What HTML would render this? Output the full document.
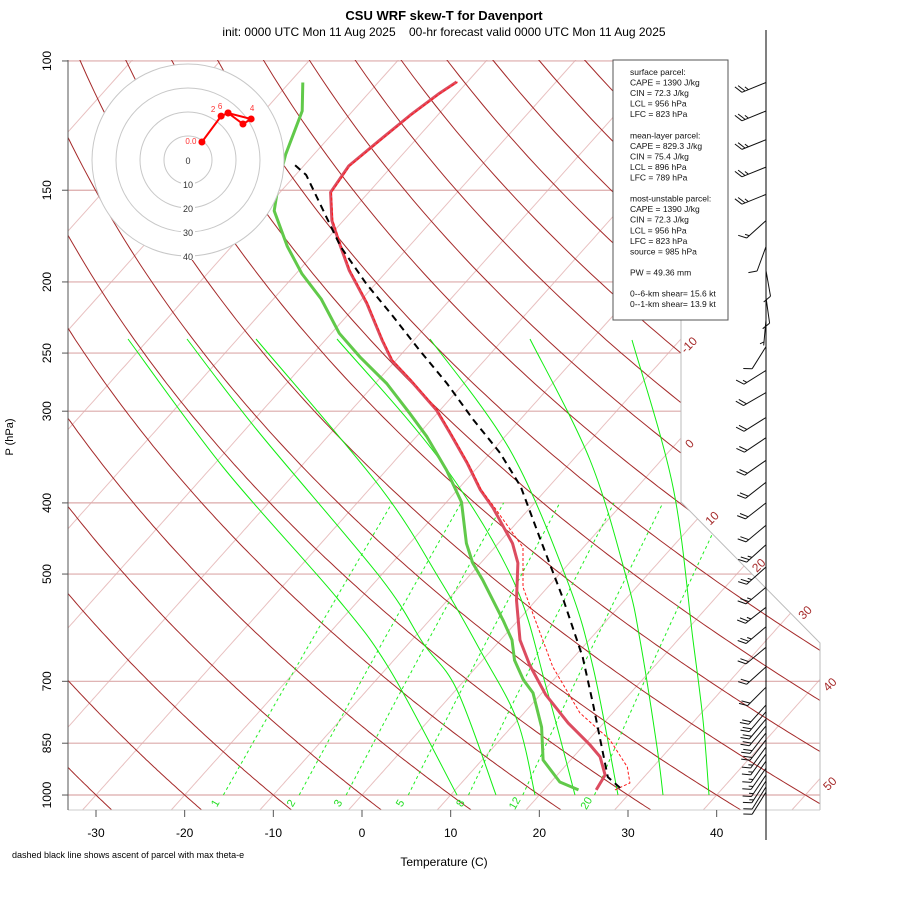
<!DOCTYPE html>
<html><head><meta charset="utf-8"><title>CSU WRF skew-T for Davenport</title>
<style>
html,body{margin:0;padding:0;background:#fff;}
svg{display:block;font-family:"Liberation Sans",Arial,sans-serif;}
</style></head>
<body>
<svg id="chart" width="900" height="900" viewBox="0 0 900 900" xmlns="http://www.w3.org/2000/svg">
<defs>
<clipPath id="plotclip"><polygon points="68,60 681,60 681,502 820,643 820,810 68,810"/></clipPath>
</defs>
<rect x="0" y="0" width="900" height="900" fill="#fff"/>
<text x="444" y="20" text-anchor="middle" font-size="13" font-weight="bold">CSU WRF skew-T for Davenport</text>
<text x="444" y="36" text-anchor="middle" font-size="12" xml:space="preserve">init: 0000 UTC Mon 11 Aug 2025    00-hr forecast valid 0000 UTC Mon 11 Aug 2025</text>
<g id="bg" clip-path="url(#plotclip)"></g>
<g id="bounds">
<polyline points="681,60 681,502 820,643 820,810" fill="none" stroke="#bbb" stroke-width="1"/>
<line x1="68" y1="810" x2="820" y2="810" stroke="#ccc" stroke-width="1"/>
</g>
<g id="axes"></g>
<g id="profiles" clip-path="url(#plotclip)"></g>
<g id="hodo"></g>
<g id="info">
<rect x="613" y="60" width="115" height="260" fill="#fff" stroke="#555" stroke-width="1"/>
</g>
<g id="barbs">
<line x1="766" y1="30" x2="766" y2="840" stroke="#000" stroke-width="1"/>
</g>
<text x="444" y="866" text-anchor="middle" font-size="12">Temperature (C)</text>
<text x="13" y="437" text-anchor="middle" font-size="11" transform="rotate(-90 13 437)">P (hPa)</text>
<text x="12" y="858" font-size="9">dashed black line shows ascent of parcel with max theta-e</text>
</svg>
<script>
// ---- data arrays ----
const tempP = [984,939,887,855,798,730,665,615,543,483,454,406,384,353,321,299,272,256,240,214,193,179,165,151,139,128,118.5,110.6,106.8];
const tempT = [25.9,25.4,23.0,20.7,16.0,10.6,5.8,2.2,-2.2,-5.8,-8.4,-14.2,-17.4,-21.6,-26.6,-30.4,-36.4,-40.4,-43.6,-49.0,-54.3,-57.7,-61.3,-64.3,-64.9,-64.0,-63.1,-62.0,-61.2];
const dewP = [984,960,896,808,726,697,655,615,578,510,483,454,399,361,325,302,275,253,235,211,195,179,160,145,134,117,107];
const dewT = [23.9,21.0,16.9,13.4,9.0,6.6,3.6,1.3,-1.7,-8.0,-10.9,-13.6,-18.3,-23.2,-28.8,-33.1,-38.7,-44.4,-49.1,-54.6,-59.3,-63.7,-68.8,-71.4,-73.2,-75.7,-78.5];
const parcelP = [978,945,869,750,649,538,449,380,342,308,275,248,223,201,179,143,138];
const parcelT = [28.4,25.9,22.6,16.8,11.0,2.7,-5.6,-13.2,-18.9,-25.3,-31.9,-38.3,-44.7,-51.1,-57.7,-68.8,-71.4];
const tvP = [984,963,916,841,773,669,521,460,406,384,353,321,299,272,256,240,214,193,179,165,151,139,128,118.5,110.6,106.8];
const tvT = [28.0,29.0,27.1,22.4,16.3,8.6,-2.8,-6.8,-14.0,-17.3,-21.5,-26.5,-30.3,-36.3,-40.3,-43.5,-48.9,-54.2,-57.6,-61.2,-64.2,-64.8,-63.9,-63.0,-61.9,-61.1];
const windP = [107,117,128,139.5,152,165,179,193,210,225,245,264,283,306,326,350,375,400,429,456,489,521,555,590,629,669,713,754,770,788,805,823,841,860,879,899,919,939,957,975,991];
const windDir = [248,248,248,248,248,228,200,170,172,185,212,238,240,238,236,235,232,232,230,228,228,230,232,230,230,228,225,222,220,220,220,218,218,216,216,215,215,214,213,212,212];
const windSpd = [25,25,25,25,25,15,10,10,10,5,10,15,20,20,20,20,20,20,20,25,25,25,25,25,20,20,20,20,20,20,20,20,20,18,18,15,15,15,15,12,10];
const hodoU = [5.8,13.8,16.7,26.3,22.9,16.7];
const hodoV = [7.5,18.3,19.6,17.1,15.0,19.6];
const hodoLbl = ["0.0","2","6","4","",""];
const pLevels = [100,150,200,250,300,400,500,700,850,1000];
const pLabels = ["100","150","200","250","300","400","500","700","850","1000"];
const tTicks = [-30,-20,-10,0,10,20,30,40];
const isoT = [-100,-90,-80,-70,-60,-50,-40,-30,-20,-10,0,10,20,30,40,50];
const isoLabelT = [-10,0,10,20,30,40,50];
const thetas = [-30,-20,-10,0,10,20,30,40,50,60,70,80,90,100,110,120,130,140,150,160,170,180,190,200];
const mixW = [1,2,3,5,8,12,20];
const infoLines = ["surface parcel:","CAPE = 1390 J/kg","CIN = 72.3 J/kg","LCL = 956 hPa","LFC = 823 hPa","","mean-layer parcel:","CAPE = 829.3 J/kg","CIN = 75.4 J/kg","LCL = 896 hPa","LFC = 789 hPa","","most-unstable parcel:","CAPE = 1390 J/kg","CIN = 72.3 J/kg","LCL = 956 hPa","LFC = 823 hPa","source = 985 hPa","","PW =  49.36 mm","","0--6-km shear= 15.6 kt","0--1-km shear= 13.9 kt"];

// ---- axis functions ----
const NS='http://www.w3.org/2000/svg';
function yu(p){return 132.182-44.061*Math.log10(p);}
function X(t,p){return 362+16.42*(0.54*t+0.90692*yu(p));}
function Y(p){return 795-16.66*yu(p);}
function mk(tag,attrs,parent){const e=document.createElementNS(NS,tag);for(const k in attrs)e.setAttribute(k,attrs[k]);parent.appendChild(e);return e;}
function pathFrom(pts){return pts.map((q,i)=>(i?'L':'M')+q[0].toFixed(1)+' '+q[1].toFixed(1)).join(' ');}
function smooth(pts){let d='M'+pts[0][0]+' '+pts[0][1];for(let i=0;i<pts.length-1;i++){const p0=pts[i-1]||pts[i],p1=pts[i],p2=pts[i+1],p3=pts[i+2]||p2;
 const c1=[p1[0]+(p2[0]-p0[0])/6,p1[1]+(p2[1]-p0[1])/6],c2=[p2[0]-(p3[0]-p1[0])/6,p2[1]-(p3[1]-p1[1])/6];
 d+=' C'+c1[0].toFixed(1)+' '+c1[1].toFixed(1)+' '+c2[0].toFixed(1)+' '+c2[1].toFixed(1)+' '+p2[0]+' '+p2[1];}return d;}
function inside(x,y){if(x<68||x>820||y<60||y>810)return false;if(y<502)return x<=681;if(y<643)return x<=681+(y-502)/1.0144;return true;}

const bg=document.getElementById('bg');
// isotherms
isoT.forEach(t=>{const pts=[];for(let p=1060;p>=95;p-=5)pts.push([X(t,p),Y(p)]);
 const e=mk('path',{d:pathFrom(pts),fill:'none',stroke:'#e8c0c0','stroke-width':1},bg);
 
 });
// pressure lines
pLevels.forEach(p=>{const e=mk('line',{x1:68,x2:820,y1:Y(p),y2:Y(p),stroke:'#dcaaaa','stroke-width':1.2},bg);
 
 });
// dry adiabats
thetas.forEach(th=>{const pts=[];for(let p=1060;p>=95;p-=5){const T=(th+273.15)*Math.pow(p/1000,0.2857)-273.15;pts.push([X(T,p),Y(p)]);}
 const e=mk('path',{d:pathFrom(pts),fill:'none',stroke:'#a52a2a','stroke-width':1},bg);
 
 });
// mixing ratio lines
function tdW(w,p){const e=w*p/(622+w);const l=Math.log(e/6.112);return 243.5*l/(17.67-l)+1.5;}
mixW.forEach(w=>{const pts=[];for(let p=1000;p>=400;p-=10)pts.push([X(tdW(w,p),p),Y(p)]);
 const e=mk('path',{d:pathFrom(pts),fill:'none',stroke:'#22ee22','stroke-width':1,'stroke-dasharray':'3,3'},bg);
 
 
 const lx=X(tdW(w,1000),1000)-5, ly=805;
 const tx=mk('text',{x:lx,y:ly,'font-size':11,fill:'#22dd22','text-anchor':'middle',transform:'rotate(-60 '+lx+' '+ly+')'},document.getElementById('axes'));
 tx.textContent=w;
 
 });
// saturated adiabats (traced reference curves)
const moistCurves=[
 [[128,339],[223,467],[337,598],[390,670],[457,795]],
 [[187,339],[257,430],[380,577],[423,643],[457,690],[496,795]],
 [[256,339],[380,487],[440,580],[480,650],[517,720],[535,795]],
 [[337,339],[440,460],[513,580],[547,690],[575,795]],
 [[430,339],[510,450],[567,580],[593,667],[618,795]],
 [[530,339],[590,460],[627,580],[640,640],[657,747],[663,795]],
 [[632,340],[673,487],[693,640],[703,720],[709,795]]];
moistCurves.forEach((c,i)=>{const e=mk('path',{d:smooth(c),fill:'none',stroke:'#11ee11','stroke-width':1},bg);
 
 });

// axes
const ax=document.getElementById('axes');
mk('line',{x1:68,y1:60,x2:68,y2:810,stroke:'#555','stroke-width':1},ax);
pLevels.forEach((p,i)=>{const y=Y(p);mk('line',{x1:62,x2:68,y1:y,y2:y,stroke:'#555'},ax);
 const t=mk('text',{x:51,y:y,'font-size':12,'text-anchor':'middle',transform:'rotate(-90 51 '+y+')'},ax);
 t.textContent=pLabels[i];
 
 });
tTicks.forEach(tv=>{const x=362+16.42*0.54*tv;mk('line',{x1:x,x2:x,y1:810,y2:817,stroke:'#555'},ax);
 const t=mk('text',{x:x,y:837,'font-size':12,'text-anchor':'middle'},ax);
 t.textContent=tv;
 
 });
isoLabelT.forEach(tv=>{let lx=0,ly=0;for(let p=1060;p>=95;p-=1){const x=X(tv,p),y=Y(p);if(inside(x,y)){lx=x;ly=y;}}
 const cx=lx+(lx>815?10:(ly>502?15:9)),cy=ly+(ly>502&&lx<815?-1:5);
 const t=mk('text',{x:cx,y:cy+4,'font-size':12,fill:'#a52a2a','text-anchor':'middle',transform:'rotate(-45 '+cx+' '+cy+')'},ax);
 t.textContent=tv;
 
 });

// profiles
const pr=document.getElementById('profiles');
function prof(P,T,attrs,name){const pts=P.map((p,i)=>[X(T[i],p),Y(p)]);attrs.d=pathFrom(pts);attrs.fill='none';attrs['stroke-linejoin']='round';
 const e=mk('path',attrs,pr);
 
 }
prof(dewP,dewT,{stroke:'#61c94a','stroke-width':3},'dewpoint-line');
prof(tempP,tempT,{stroke:'#dc4c60','stroke-width':3},'temperature-line');
prof(tvP,tvT,{stroke:'#ff1a1a','stroke-width':1,'stroke-dasharray':'3,2'},'virtual-temperature-line');
prof(parcelP,parcelT,{stroke:'#000','stroke-width':2,'stroke-dasharray':'7,5'},'parcel-ascent-line');

// hodograph
const hg=document.getElementById('hodo');const hcx=188,hcy=160,hs=2.4;
[40,30,20,10].forEach(r=>{mk('circle',{cx:hcx,cy:hcy,r:r*hs,fill:'#fff',stroke:'#c8c8c8','stroke-width':1},hg);});
[0,10,20,30,40].forEach(r=>{const t=mk('text',{x:hcx,y:hcy+r*hs+4,'font-size':9,'text-anchor':'middle',fill:'#333'},hg);
 if(r>0){mk('rect',{x:hcx-7,y:hcy+r*hs-4,width:14,height:8,fill:'#fff'},hg);hg.appendChild(t);}
 t.textContent=r;
 
 });
const hpts=hodoU.map((u,i)=>[hcx+u*hs,hcy-hodoV[i]*hs]);
const hl=mk('path',{d:pathFrom(hpts),fill:'none',stroke:'#ff0000','stroke-width':2},hg);


hpts.forEach((q,i)=>{const c=mk('circle',{cx:q[0],cy:q[1],r:3.5,fill:'#ff0000'},hg);
 
 
 if(hodoLbl[i]){const t=mk('text',{x:q[0]-(i==0?11:(i==3?-1:8)),y:q[1]-(i==0?-2:(i==3?8:4)),'font-size':8,fill:'#ff3333','text-anchor':'middle'},hg);
  t.textContent=hodoLbl[i];
  
  }});

// info box text
const inf=document.getElementById('info');
infoLines.forEach((s,i)=>{if(!s)return;const t=mk('text',{x:630,y:75+i*10.55,'font-size':8.5,fill:'#111'},inf);
 t.textContent=s;
 
 });

// wind barbs
const bb=document.getElementById('barbs');
windP.forEach((p,i)=>{const by=Y(p),bx=766,L=26;const a=windDir[i]*Math.PI/180;const dx=Math.sin(a),dy=-Math.cos(a)*-1;
 const ux=Math.sin(a),uy=Math.cos(a); // screen: east=+x, north=-y
 const sx=ux, sy=uy; // from base toward wind source: (sin, -cos) in north-up => y screen = +cos? 
 const tx=bx+L*Math.sin(a), ty=by-L*Math.cos(a);
 const vx=(tx-bx)/L, vy=(ty-by)/L; const fx=-vy*0.85+vx*0.5, fy=vx*0.85+vy*0.5;
 const g=mk('g',{},bb);
 
 
 let d='M'+bx+' '+by.toFixed(1)+' L'+tx.toFixed(1)+' '+ty.toFixed(1);
 let s=windSpd[i],k=0;
 while(s>=10){const px=tx-vx*k*3.5,py=ty-vy*k*3.5;d+=' M'+px.toFixed(1)+' '+py.toFixed(1)+' l'+(fx*9).toFixed(1)+' '+(fy*9).toFixed(1);s-=10;k++;}
 if(s>=5){if(k==0)k=1;const px=tx-vx*k*3.5,py=ty-vy*k*3.5;d+=' M'+px.toFixed(1)+' '+py.toFixed(1)+' l'+(fx*4.5).toFixed(1)+' '+(fy*4.5).toFixed(1);}
 mk('path',{d:d,fill:'none',stroke:'#111','stroke-width':1},g);});
</script>
</body></html>
